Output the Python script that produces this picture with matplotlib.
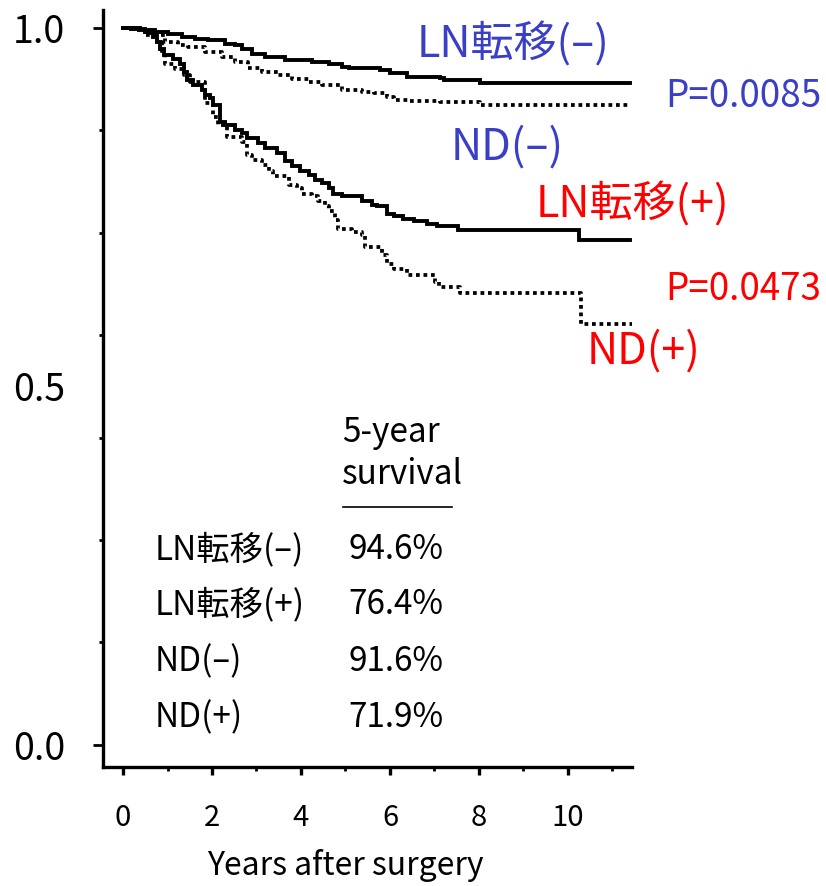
import matplotlib
matplotlib.use("Agg")
import matplotlib.pyplot as plt

plt.rcParams['font.family'] = ['Noto Sans CJK JP', 'DejaVu Sans']

# ---- data ----
ln_neg_t = [0, 0.35, 0.72, 1.02, 1.32, 1.62, 1.92, 2.29, 2.52, 2.67, 2.9, 3.19, 3.64, 4.24, 4.62, 4.92,
            5.07, 5.78, 6.0, 6.38, 7.13, 7.21, 8.03, 11.4]
ln_neg_s = [1.0, 0.997, 0.995, 0.992, 0.988, 0.985, 0.983, 0.978, 0.976, 0.971, 0.964, 0.96, 0.955, 0.953, 0.95, 0.946,
            0.944, 0.941, 0.937, 0.932, 0.93, 0.927, 0.923, 0.923]

nd_neg_t = [0, 0.5, 0.94, 1.24, 1.47, 1.84, 2.22, 2.52, 2.82, 3.12, 3.49, 3.8, 4.17, 4.47, 4.92, 5.37,
            5.63, 5.93, 6.08, 6.46, 7.13, 8.03, 11.4]
nd_neg_s = [1.0, 0.99, 0.981, 0.976, 0.973, 0.967, 0.96, 0.953, 0.944, 0.939, 0.934, 0.929, 0.925, 0.92, 0.913, 0.91,
            0.909, 0.904, 0.9, 0.898, 0.896, 0.893, 0.893]

ln_pos_t = [0, 0.19, 0.5, 0.68, 0.76, 0.83, 0.91, 1.13, 1.28, 1.36, 1.43, 1.58, 1.77, 1.84, 1.96, 2.03,
            2.18, 2.29, 2.52, 2.67, 2.78, 3.04, 3.19, 3.46, 3.64, 3.79, 3.98, 4.17, 4.32, 4.47, 4.62,
            4.73, 4.92, 5.37, 5.6, 5.71, 5.93, 6.08, 6.3, 6.53, 6.83, 7.06, 7.54, 10.24, 11.4]
ln_pos_s = [1.0, 0.999, 0.995, 0.988, 0.981, 0.971, 0.962, 0.957, 0.95, 0.939, 0.927, 0.92, 0.914, 0.907, 0.902, 0.893,
            0.869, 0.865, 0.858, 0.853, 0.846, 0.839, 0.832, 0.825, 0.814, 0.807, 0.80, 0.795, 0.788, 0.783, 0.776,
            0.769, 0.765, 0.758, 0.753, 0.752, 0.741, 0.737, 0.734, 0.73, 0.727, 0.723, 0.718, 0.704, 0.704]

nd_pos_t = [0, 0.5, 0.76, 0.87, 0.94, 1.17, 1.36, 1.5, 1.84, 2.03, 2.14, 2.33, 2.67, 2.78, 2.9, 3.12, 3.27,
            3.38, 3.72, 3.91, 4.02, 4.24, 4.39, 4.54, 4.62, 4.77, 4.84, 5.15, 5.37, 5.44, 5.82, 5.93,
            6.08, 6.38, 7.02, 7.1, 7.58, 10.3, 11.44]
nd_pos_s = [1.0, 0.993, 0.981, 0.962, 0.95, 0.943, 0.935, 0.925, 0.895, 0.876, 0.865, 0.848, 0.841, 0.823, 0.816, 0.809, 0.8,
            0.793, 0.781, 0.776, 0.769, 0.765, 0.758, 0.751, 0.744, 0.732, 0.72, 0.716, 0.711, 0.695, 0.683, 0.671,
            0.664, 0.655, 0.646, 0.639, 0.63, 0.587, 0.587]

table_groups = ['LN転移(–)', 'LN転移(+)', 'ND(–)', 'ND(+)']
table_values = ['94.6%', '76.4%', '91.6%', '71.9%']

x_ticks = [0, 2, 4, 6, 8, 10]
y_ticks = [0.0, 0.5, 1.0]
y_tick_labels = ['0.0', '0.5', '1.0']

BLUE = '#3b3fc6'
RED = '#ff0000'

fig = plt.figure(figsize=(8.26, 8.86), dpi=100)
ax = fig.add_axes([103/826, 119/886, (632-103)/826, (876-119)/886])

ax.plot(ln_neg_t, ln_neg_s, drawstyle='steps-post', color='black', lw=2.8, solid_joinstyle='miter')
ax.plot(ln_pos_t, ln_pos_s, drawstyle='steps-post', color='black', lw=2.8, solid_joinstyle='miter')
ax.plot(nd_neg_t, nd_neg_s, drawstyle='steps-post', color='black', lw=2.7, linestyle=(0, (1, 1)))
ax.plot(nd_pos_t, nd_pos_s, drawstyle='steps-post', color='black', lw=2.7, linestyle=(0, (1, 1)))

ax.set_xlim(-0.45, 11.44)
ax.set_ylim(-0.031, 1.025)

for s in ['top', 'right']:
    ax.spines[s].set_visible(False)
for s in ['left', 'bottom']:
    ax.spines[s].set_linewidth(2.4)

ax.set_xticks(x_ticks)
ax.set_xticks([1, 3, 5, 7, 9, 11], minor=True)
ax.set_yticks(y_ticks)
ax.set_yticklabels(y_tick_labels)
ax.set_yticks([k/7 for k in range(1, 7)], minor=True)
ax.tick_params(axis='x', which='major', length=6, width=2.4, pad=20, labelsize=21)
ax.tick_params(axis='x', which='minor', length=3, width=2.0)
ax.tick_params(axis='y', which='major', length=7, width=2.0, pad=20, labelsize=27)
ax.tick_params(axis='y', which='minor', length=3, width=2.0)
ax.yaxis.get_major_ticks()[1].tick1line.set_visible(False)
ax.set_xlabel('Years after surgery', fontsize=23)
ax.xaxis.set_label_coords((345 - 103) / 529, -(866 - 767) / 757, transform=ax.transAxes)
ax.xaxis.label.set_va('center')

def px2d(px, py):
    return (px - 123) / 44.45, (745 - py) / 717

def label(px, py, s, color, ha='center', size=22):
    x, y = px2d(px, py)
    ax.text(x, y, s, color=color, ha=ha, va='center', fontsize=size, clip_on=False)

label(513, 45, 'LN転移(–)', BLUE, size=31)
label(665, 97, 'P=0.0085', BLUE, ha='left', size=26.5)
label(507, 148, 'ND(–)', BLUE, size=31)
label(632, 205, 'LN転移(+)', RED, size=31)
label(665, 290, 'P=0.0473', RED, ha='left', size=26.5)
label(643, 352, 'ND(+)', RED, size=31)

label(342, 433, '5-year', 'black', ha='left', size=24)
label(342, 475, 'survival', 'black', ha='left', size=24)
x0, yl = px2d(343, 507)
x1, _ = px2d(452, 507)
ax.plot([x0, x1], [yl, yl], color='black', lw=1.2)
rows_py = [550, 605, 662, 718]
for g, v, py in zip(table_groups, table_values, rows_py):
    label(155, py, g, 'black', ha='left', size=24)
    label(348, py, v, 'black', ha='left', size=24)

fig.savefig('out.png', dpi=100)
